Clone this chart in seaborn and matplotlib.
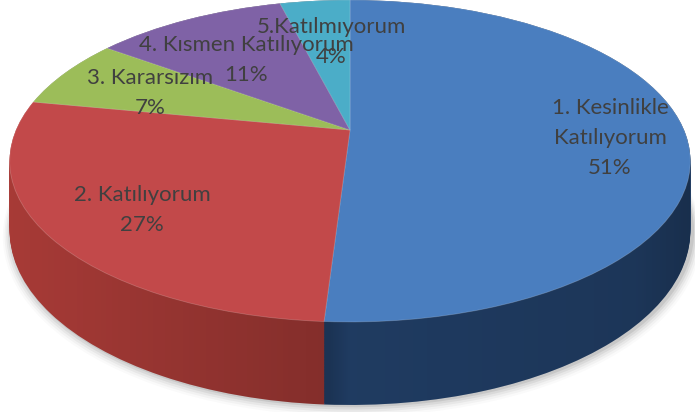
import numpy as np
import matplotlib
matplotlib.use("Agg")
import matplotlib.pyplot as plt
import matplotlib.transforms as mtransforms
from matplotlib.path import Path
import seaborn as sns

# ---- data ----
categories = ["1. Kesinlikle\nKatılıyorum", "2. Katılıyorum", "3. Kararsızım",
              "4. Kısmen Katılıyorum", "5.Katılmıyorum"]
values = [51, 27, 7, 11, 4]
pct_labels = ["51%", "27%", "7%", "11%", "4%"]

top_colors = ["#4A7EBF", "#C2494A", "#9CBD59", "#7F62A6", "#4BADC8"]
side_colors = ["#23426C", "#A83B37", "#5E7A2E", "#4B3868", "#2A6F82"]

sns.set_theme(style="white")
plt.rcParams["font.family"] = ["Lato", "DejaVu Sans"]

W, H = 695, 412
CX, CY = 350, 130          # pixel position of the pie centre (top face)
A_P, B_P, C_P = 0.1926, 155.0, 334.0   # perspective parameters
DEPTH = 67.0


class Perspective(mtransforms.Transform):
    """Maps a unit-circle pie onto a tilted, perspective disc (pixel units)."""
    input_dims = 2
    output_dims = 2
    is_separable = False
    has_inverse = False

    def __init__(self, t):
        super().__init__()
        self.t = t

    def transform_non_affine(self, xy):
        xy = np.asarray(xy, dtype=float)
        X, Y = xy[:, 0], xy[:, 1]
        s = 1 + A_P * Y
        return np.column_stack([C_P * X / s, (B_P * Y - DEPTH * self.t) / s])

    def transform_path_non_affine(self, path):
        return Path(self.transform_non_affine(path.vertices), path.codes)


def convex_hull(pts):
    pts = sorted(map(tuple, pts))
    def cross(o, a, b):
        return (a[0] - o[0]) * (b[1] - o[1]) - (a[1] - o[1]) * (b[0] - o[0])
    lower, upper = [], []
    for p in pts:
        while len(lower) >= 2 and cross(lower[-2], lower[-1], p) <= 0:
            lower.pop()
        lower.append(p)
    for p in reversed(pts):
        while len(upper) >= 2 and cross(upper[-2], upper[-1], p) <= 0:
            upper.pop()
        upper.append(p)
    return np.array(lower[:-1] + upper[:-1])


fig = plt.figure(figsize=(W / 100, H / 100), dpi=100)
ax = fig.add_axes([0, 0, 1, 1])


def draw_pie(colors, t, **wp):
    wedges, _ = ax.pie(values, colors=colors, radius=1, startangle=90,
                       counterclock=False, frame=True, wedgeprops=wp)
    tr = Perspective(t) + ax.transData
    for w in wedges:
        w.set_transform(tr)
    return wedges


# soft shadow
for i, a in enumerate([0.02, 0.03, 0.045, 0.06, 0.08]):
    tt = 1.06 - 0.012 * i
    ws = draw_pie(["#000000"] * len(values), tt, linewidth=0, alpha=a)
    for w in ws:
        w.set_transform(mtransforms.Affine2D().scale(1.025 - 0.005 * i) +
                        Perspective(tt) +
                        mtransforms.Affine2D().translate(2, 0) + ax.transData)

# side (depth) layers
for t in np.linspace(1, 0, 60):
    draw_pie(side_colors, t, linewidth=0)

# horizontal shading of the side wall
theta = np.linspace(0, 2 * np.pi, 400)
circ = np.column_stack([np.cos(theta), np.sin(theta)])
hull = convex_hull(np.vstack([Perspective(0).transform(circ),
                              Perspective(1).transform(circ)]))
xs = np.linspace(-CX, W - CX, 400)
alpha = np.interp(xs, [-CX, -20, 0, W - CX - 60, W - CX], [0.0, 0.22, 0.1, 0.18, 0.3])
img = np.zeros((2, len(xs), 4))
img[..., 3] = alpha
im = ax.imshow(img, extent=(-CX, W - CX, CY - H, CY), aspect="auto",
               interpolation="bilinear", zorder=1)
im.set_clip_path(Path(np.vstack([hull, hull[:1]]), closed=True), transform=ax.transData)

# top face
top = draw_pie(top_colors, 0, linewidth=0.6, edgecolor=(1, 1, 1, 0.2))
for w in top:
    w.set_zorder(2)

ax.set_aspect("auto")
ax.set_xlim(-CX, W - CX)
ax.set_ylim(CY - H, CY)
ax.axis("off")

# labels (pixel positions of label centres)
label_pos = [(610, 138), (142, 210), (150, 93), (246, 60), (331, 42)]
for name, pct, (px, py) in zip(categories, pct_labels, label_pos):
    fig.text(px / W, 1 - py / H, f"{name}\n{pct}", ha="center", va="center",
             fontsize=16, color="#404040", linespacing=1.6)

fig.savefig("out.png", dpi=100)
